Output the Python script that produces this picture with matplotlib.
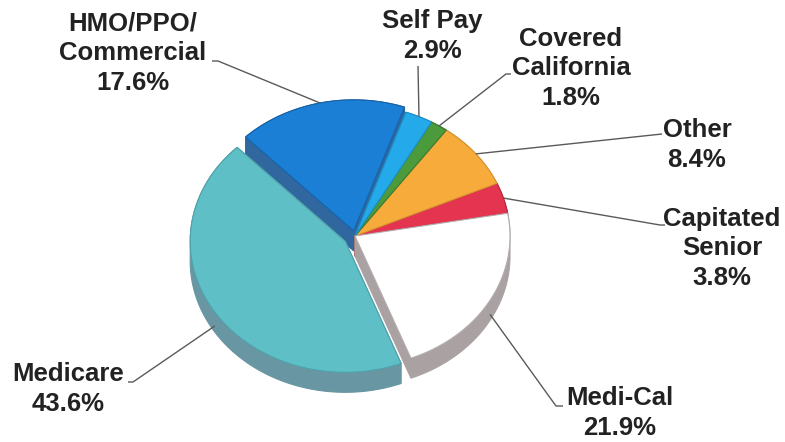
import numpy as np
import matplotlib
matplotlib.use('Agg')
import matplotlib.pyplot as plt

# ---------------- data (counter-clockwise from the right) ----------------
categories = ['Capitated\nSenior', 'Other', 'Covered\nCalifornia', 'Self Pay',
              'HMO/PPO/\nCommercial', 'Medicare', 'Medi-Cal']
shares = [3.8, 8.4, 1.8, 2.9, 17.6, 43.6, 21.9]

# ---------------- style ----------------
top_colors = ['#e4344f', '#f6ab3b', '#4b9a3c', '#24a9ea', '#1b7fd5', '#5ebfc7', '#ffffff']
side_colors = ['#a8283c', '#c4882e', '#3a7a30', '#1c86bb', '#30679f', '#6896a2', '#aaa1a3']
edge_colors = ['#b82a40', '#d99430', '#3a7a30', '#1c8fc8', '#1763a8', '#4fa3ab', '#b5adad']
explode = [0, 0, 0, 0, 0.04, 0.075, 0]

# ---------------- layout (pixels) ----------------
CX, CY, RX, RY, DEPTH = 355, 236, 155, 131, 20
START = 10
# text centre x, baseline y of the last line
label_pos = [(722, 285), (697, 167), (571, 105), (432, 58), (133, 90), (68, 411), (620, 435)]
label_hook = [[(665, 225), (660, 225)], [(662, 134)], [(511, 74), (506, 74)], [(418, 66)],
              [(212, 61), (218, 61)], [(128, 382), (133, 382)], [(563, 406), (556, 406)]]

fig = plt.figure(figsize=(7.85, 4.42), dpi=100)
ax = fig.add_axes([0, 0, 1, 1])
ax.set_xlim(0, 785)
ax.set_ylim(442, 0)
ax.axis('off')

vals = np.array(shares, dtype=float)
bounds = START + 360.0 * np.concatenate([[0.0], np.cumsum(vals / vals.sum())])


def slice_poly(t1, t2, ex):
    mid = np.radians((t1 + t2) / 2)
    ox, oy = ex * RX * np.cos(mid), -ex * RY * np.sin(mid)
    th = np.radians(np.linspace(t1, t2, max(10, int(abs(t2 - t1) * 2))))
    xs = CX + ox + np.r_[0.0, RX * np.cos(th)]
    ys = CY + oy + np.r_[0.0, -RY * np.sin(th)]
    return np.column_stack([xs, ys]), (ox, oy)


def hull(points):
    pts = sorted(map(tuple, points))

    def cross(o, a, b):
        return (a[0] - o[0]) * (b[1] - o[1]) - (a[1] - o[1]) * (b[0] - o[0])
    lower, upper = [], []
    for p in pts:
        while len(lower) >= 2 and cross(lower[-2], lower[-1], p) <= 0:
            lower.pop()
        lower.append(p)
    for p in reversed(pts):
        while len(upper) >= 2 and cross(upper[-2], upper[-1], p) <= 0:
            upper.pop()
        upper.append(p)
    return np.array(lower[:-1] + upper[:-1])


polys = []
for i in range(len(vals)):
    poly, off = slice_poly(bounds[i], bounds[i + 1], explode[i])
    polys.append((poly, off))

# sides, back to front
order = sorted(range(len(vals)), key=lambda i: -np.sin(np.radians((bounds[i] + bounds[i + 1]) / 2)))
for i in order:
    poly, _ = polys[i]
    shifted = poly + np.array([0, DEPTH])
    h = hull(np.vstack([poly, shifted]))
    ax.fill(h[:, 0], h[:, 1], facecolor=side_colors[i], edgecolor=side_colors[i],
            linewidth=0.8, zorder=2)

# tops
for i in range(len(vals)):
    poly, _ = polys[i]
    ax.fill(poly[:, 0], poly[:, 1], facecolor=top_colors[i], edgecolor=edge_colors[i],
            linewidth=0.8, zorder=3)

# labels and leader lines
for i, cat in enumerate(categories):
    mid = (bounds[i] + bounds[i + 1]) / 2
    _, (ox, oy) = polys[i]
    m = np.radians(mid)
    ax_x = CX + ox + RX * np.cos(m)
    ax_y = CY + oy - RY * np.sin(m)
    if np.sin(m) < 0:
        ax_y += DEPTH * 0.7
    pts = label_hook[i] + [(ax_x, ax_y)]
    xs, ys = zip(*pts)
    ax.plot(xs, ys, color='#5a5a5a', linewidth=1.0, zorder=4, solid_capstyle='butt')
    tx, ty = label_pos[i]
    ax.text(tx, ty, f"{cat}\n{vals[i]:.1f}%", ha='center', va='baseline',
            fontsize=18.5, fontweight='bold', family='Liberation Sans',
            color='#222222', linespacing=1.3, zorder=5)

fig.savefig('out.png', dpi=100, facecolor='white')
